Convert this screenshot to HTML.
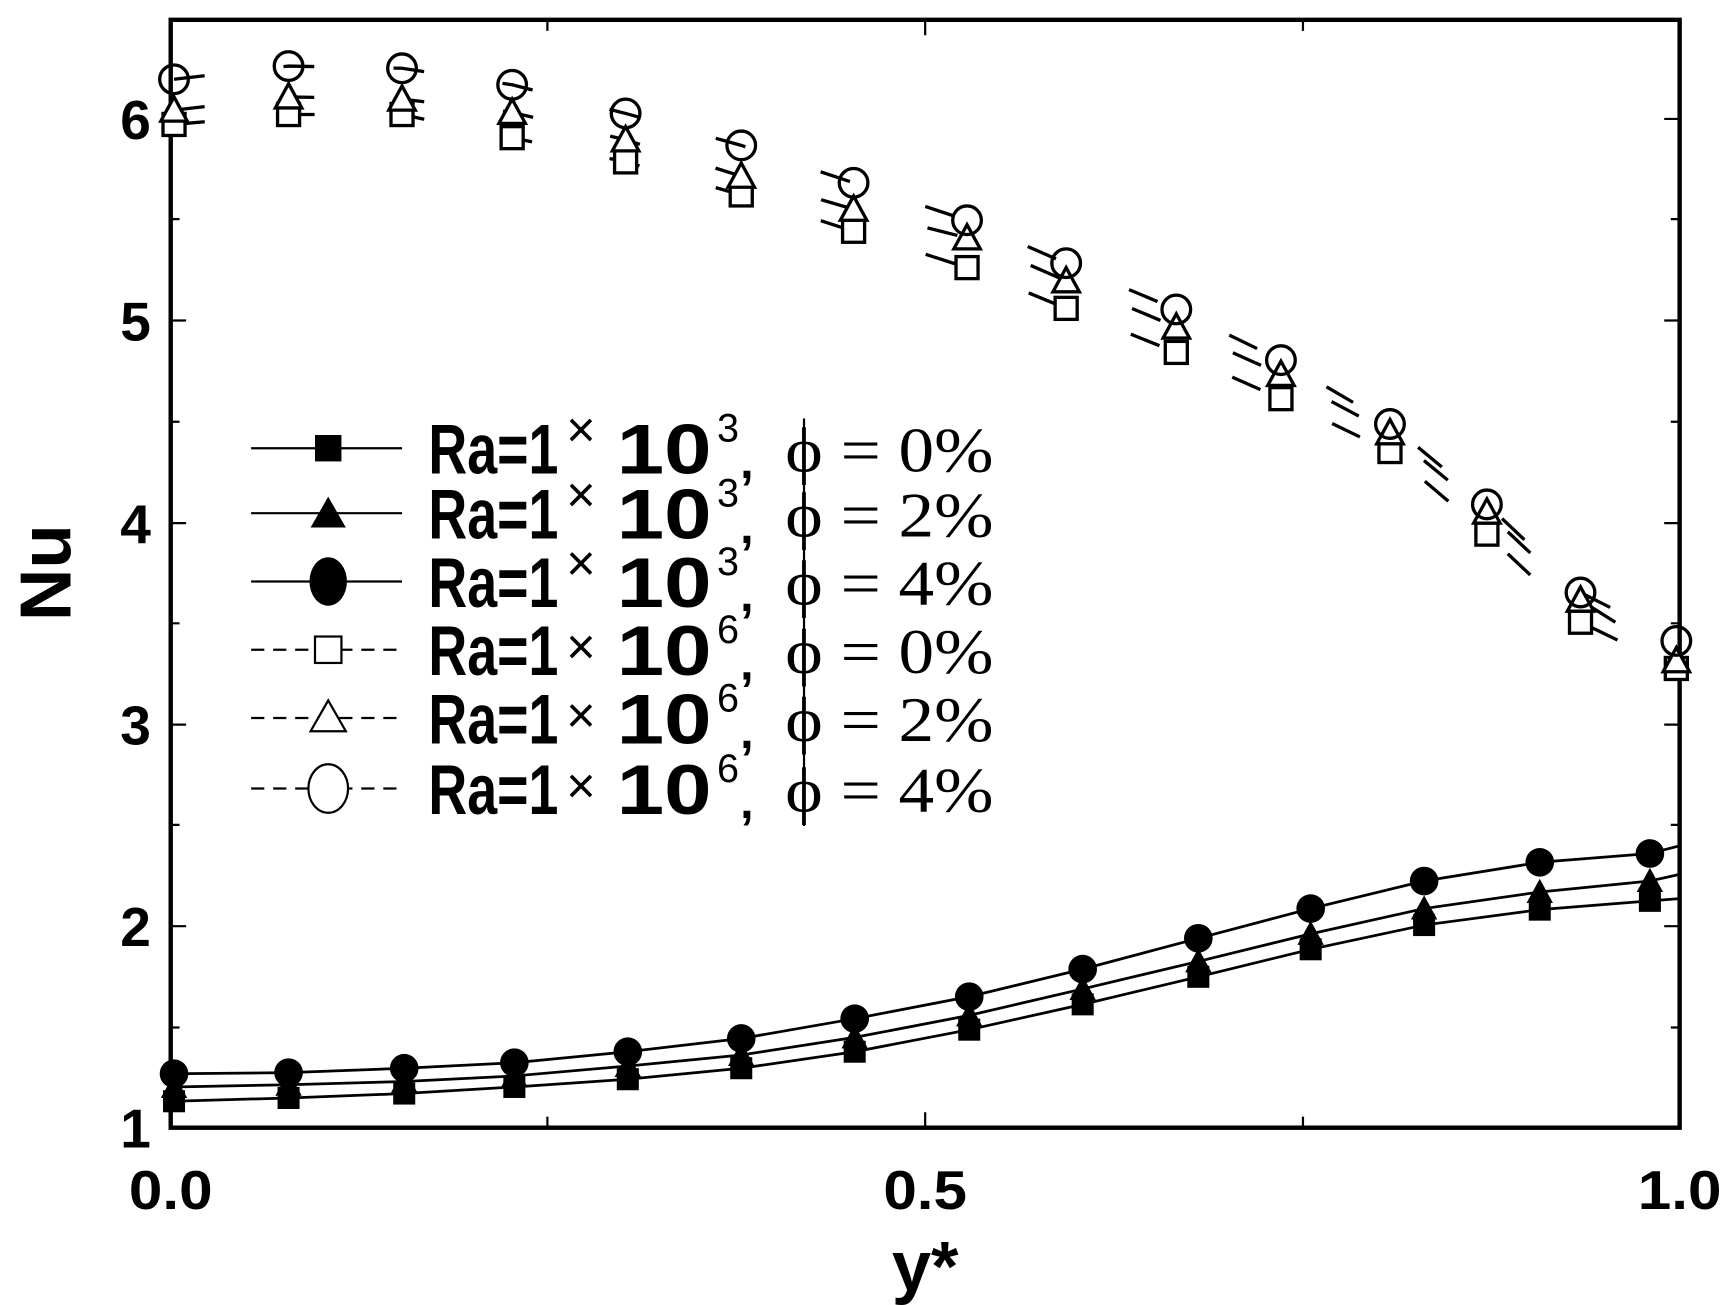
<!DOCTYPE html>
<html><head><meta charset="utf-8"><style>html,body{margin:0;padding:0;background:#fff}svg{display:block}</style></head>
<body>
<svg width="1727" height="1305" viewBox="0 0 1568 1185" preserveAspectRatio="none" xmlns="http://www.w3.org/2000/svg">
<rect width="1568" height="1185" fill="#fff"/>
<g fill="none" stroke="#000">
<rect x="155" y="18" width="1370" height="1006" stroke-width="4"/>
<path stroke-width="2" d="M155 108h14M155 291h14M155 475h14M155 658h14M155 841h14M155 199h8M155 383h8M155 566h8M155 749h8M155 933h8M1525 108h-14M1525 291h-14M1525 475h-14M1525 658h-14M1525 841h-14M1525 199h-8M1525 383h-8M1525 566h-8M1525 749h-8M1525 933h-8"/>
<path stroke-width="2" d="M497 1024v-10M840 1024v-14M1183 1024v-10M497 18v10M840 18v14M1183 18v10"/>
</g>
<g font-family="Liberation Sans, Arial, sans-serif" font-weight="bold" font-size="50" fill="#000">
<text x="137" y="1042" text-anchor="end">1</text>
<text x="137" y="859" text-anchor="end">2</text>
<text x="137" y="676" text-anchor="end">3</text>
<text x="137" y="493" text-anchor="end">4</text>
<text x="137" y="309" text-anchor="end">5</text>
<text x="137" y="126" text-anchor="end">6</text>
<text x="155" y="1098" text-anchor="middle" textLength="76" lengthAdjust="spacingAndGlyphs">0.0</text>
<text x="840" y="1098" text-anchor="middle" textLength="76" lengthAdjust="spacingAndGlyphs">0.5</text>
<text x="1525" y="1098" text-anchor="middle" textLength="76" lengthAdjust="spacingAndGlyphs">1.0</text>
<text x="840" y="1172" text-anchor="middle" font-size="64">y*</text>
<text transform="translate(64,520) rotate(-90)" text-anchor="middle" font-size="66">Nu</text>
</g>
<g fill="none" stroke="#000" stroke-width="2.5">
<polyline points="158,1000 262,997 367,993 467,987 570,980 673,970 776,955 880,935 983,912 1088,887 1190,862 1293,840 1398,826 1498,818 1525,816"/>
<polyline points="158,987 262,985 367,982 467,977 570,968 673,958 776,942 880,922 983,898 1088,873 1190,848 1293,825 1398,810 1498,800 1525,794"/>
<polyline points="158,975 262,974 367,970 467,965 570,955 673,943 776,925 880,905 983,880 1088,852 1190,825 1293,800 1398,783 1498,775 1525,768"/>
</g>
<g fill="#000">
<rect x="148" y="990" width="20" height="20"/><rect x="252" y="987" width="20" height="20"/><rect x="357" y="983" width="20" height="20"/><rect x="457" y="977" width="20" height="20"/><rect x="560" y="970" width="20" height="20"/><rect x="663" y="960" width="20" height="20"/><rect x="766" y="945" width="20" height="20"/><rect x="870" y="925" width="20" height="20"/><rect x="973" y="902" width="20" height="20"/><rect x="1078" y="877" width="20" height="20"/><rect x="1180" y="852" width="20" height="20"/><rect x="1283" y="830" width="20" height="20"/><rect x="1388" y="816" width="20" height="20"/><rect x="1488" y="808" width="20" height="20"/>
<path d="M158 975l12 22h-24zM262 973l12 22h-24zM367 970l12 22h-24zM467 965l12 22h-24zM570 956l12 22h-24zM673 946l12 22h-24zM776 930l12 22h-24zM880 910l12 22h-24zM983 886l12 22h-24zM1088 861l12 22h-24zM1190 836l12 22h-24zM1293 813l12 22h-24zM1398 798l12 22h-24zM1498 788l12 22h-24z"/>
<circle cx="158" cy="975" r="13"/><circle cx="262" cy="974" r="13"/><circle cx="367" cy="970" r="13"/><circle cx="467" cy="965" r="13"/><circle cx="570" cy="955" r="13"/><circle cx="673" cy="943" r="13"/><circle cx="776" cy="925" r="13"/><circle cx="880" cy="905" r="13"/><circle cx="983" cy="880" r="13"/><circle cx="1088" cy="852" r="13"/><circle cx="1190" cy="825" r="13"/><circle cx="1293" cy="800" r="13"/><circle cx="1398" cy="783" r="13"/><circle cx="1498" cy="775" r="13"/>
</g>
<g fill="none" stroke="#000" stroke-width="3" stroke-dasharray="28 72">
<polyline points="158,113 262,104 365,104 465,125 568,147 673,177 775,210 878,243 968,280 1068,320 1163,362 1262,410 1350,485 1435,565 1522,607"/>
<polyline points="158,100 262,88 365,90 465,102 568,127 673,160 775,190 878,216 968,255 1068,297 1163,340 1262,393 1350,465 1435,545 1522,600"/>
<polyline points="158,72 262,60 365,62 465,77 568,103 673,132 775,166 878,200 968,239 1068,281 1163,327 1262,385 1350,458 1435,538 1522,582"/>
</g>
<g fill="#fff" stroke="#000" stroke-width="3">
<rect x="148" y="103" width="20" height="20"/><rect x="252" y="94" width="20" height="20"/><rect x="355" y="94" width="20" height="20"/><rect x="455" y="115" width="20" height="20"/><rect x="558" y="137" width="20" height="20"/><rect x="663" y="167" width="20" height="20"/><rect x="765" y="200" width="20" height="20"/><rect x="868" y="233" width="20" height="20"/><rect x="958" y="270" width="20" height="20"/><rect x="1058" y="310" width="20" height="20"/><rect x="1153" y="352" width="20" height="20"/><rect x="1252" y="400" width="20" height="20"/><rect x="1340" y="475" width="20" height="20"/><rect x="1425" y="555" width="20" height="20"/><rect x="1512" y="597" width="20" height="20"/>
<path d="M158 88l12 22h-24zM262 76l12 22h-24zM365 78l12 22h-24zM465 90l12 22h-24zM568 115l12 22h-24zM673 148l12 22h-24zM775 178l12 22h-24zM878 204l12 22h-24zM968 243l12 22h-24zM1068 285l12 22h-24zM1163 328l12 22h-24zM1262 381l12 22h-24zM1350 453l12 22h-24zM1435 533l12 22h-24zM1522 588l12 22h-24z"/>
<g fill="none"><circle cx="158" cy="72" r="13"/><circle cx="262" cy="60" r="13"/><circle cx="365" cy="62" r="13"/><circle cx="465" cy="77" r="13"/><circle cx="568" cy="103" r="13"/><circle cx="673" cy="132" r="13"/><circle cx="775" cy="166" r="13"/><circle cx="878" cy="200" r="13"/><circle cx="968" cy="239" r="13"/><circle cx="1068" cy="281" r="13"/><circle cx="1163" cy="327" r="13"/><circle cx="1262" cy="385" r="13"/><circle cx="1350" cy="458" r="13"/><circle cx="1435" cy="538" r="13"/><circle cx="1522" cy="582" r="13"/></g>
</g>
<g stroke="#000" stroke-width="2">
<path d="M228 407H365M228 466H365M228 528H365"/>
<path stroke-dasharray="12 8" d="M228 590H365M228 652H365M228 716H365"/>
</g>
<rect x="286" y="395" width="24" height="24" fill="#000"/>
<path d="M298 451l16 28h-32z" fill="#000"/>
<ellipse cx="298" cy="528" rx="17" ry="22" fill="#000"/>
<rect x="286" y="578" width="24" height="24" fill="#fff" stroke="#000" stroke-width="2"/>
<path d="M298 636l16 28h-32z" fill="#fff" stroke="#000" stroke-width="2"/>
<ellipse cx="298" cy="716" rx="18" ry="22" fill="#fff" stroke="#000" stroke-width="2"/>
<g fill="#000">
<g font-family="Liberation Sans, Arial, sans-serif" font-weight="bold" font-size="64">
<text x="389" y="430" textLength="118" lengthAdjust="spacingAndGlyphs">Ra=1</text>
<text x="389" y="489" textLength="118" lengthAdjust="spacingAndGlyphs">Ra=1</text>
<text x="389" y="551" textLength="118" lengthAdjust="spacingAndGlyphs">Ra=1</text>
<text x="389" y="613" textLength="118" lengthAdjust="spacingAndGlyphs">Ra=1</text>
<text x="389" y="675" textLength="118" lengthAdjust="spacingAndGlyphs">Ra=1</text>
<text x="389" y="739" textLength="118" lengthAdjust="spacingAndGlyphs">Ra=1</text>
<text x="560" y="430" textLength="86" lengthAdjust="spacingAndGlyphs">10</text>
<text x="560" y="489" textLength="86" lengthAdjust="spacingAndGlyphs">10</text>
<text x="560" y="551" textLength="86" lengthAdjust="spacingAndGlyphs">10</text>
<text x="560" y="613" textLength="86" lengthAdjust="spacingAndGlyphs">10</text>
<text x="560" y="675" textLength="86" lengthAdjust="spacingAndGlyphs">10</text>
<text x="560" y="739" textLength="86" lengthAdjust="spacingAndGlyphs">10</text>
</g>
<g font-family="Liberation Sans, Arial, sans-serif" font-size="46">
<text x="514" y="406">×</text><text x="514" y="465">×</text><text x="514" y="527">×</text>
<text x="514" y="603">×</text><text x="514" y="665">×</text><text x="514" y="729">×</text>
</g>
<g font-family="Liberation Sans, Arial, sans-serif" font-size="36">
<text x="651" y="401" textLength="20" lengthAdjust="spacingAndGlyphs">3</text><text x="651" y="460" textLength="20" lengthAdjust="spacingAndGlyphs">3</text><text x="651" y="522" textLength="20" lengthAdjust="spacingAndGlyphs">3</text>
<text x="651" y="584" textLength="20" lengthAdjust="spacingAndGlyphs">6</text><text x="651" y="646" textLength="20" lengthAdjust="spacingAndGlyphs">6</text><text x="651" y="710" textLength="20" lengthAdjust="spacingAndGlyphs">6</text>
</g>
<g font-family="Liberation Sans, Arial, sans-serif" font-weight="bold" font-size="44">
<text x="672" y="434">,</text><text x="672" y="493">,</text><text x="672" y="555">,</text>
<text x="672" y="617">,</text><text x="672" y="679">,</text><text x="672" y="743">,</text>
</g>
<g font-family="Liberation Serif, serif" font-size="58">
<text x="713" y="428" textLength="189" lengthAdjust="spacingAndGlyphs">ϕ = 0%</text>
<text x="713" y="487" textLength="189" lengthAdjust="spacingAndGlyphs">ϕ = 2%</text>
<text x="713" y="549" textLength="189" lengthAdjust="spacingAndGlyphs">ϕ = 4%</text>
<text x="713" y="611" textLength="189" lengthAdjust="spacingAndGlyphs">ϕ = 0%</text>
<text x="713" y="673" textLength="189" lengthAdjust="spacingAndGlyphs">ϕ = 2%</text>
<text x="713" y="737" textLength="189" lengthAdjust="spacingAndGlyphs">ϕ = 4%</text>
</g>
</g>
<path d="M730 380V750" stroke="#000" stroke-width="2"/>
</svg>
</body></html>
